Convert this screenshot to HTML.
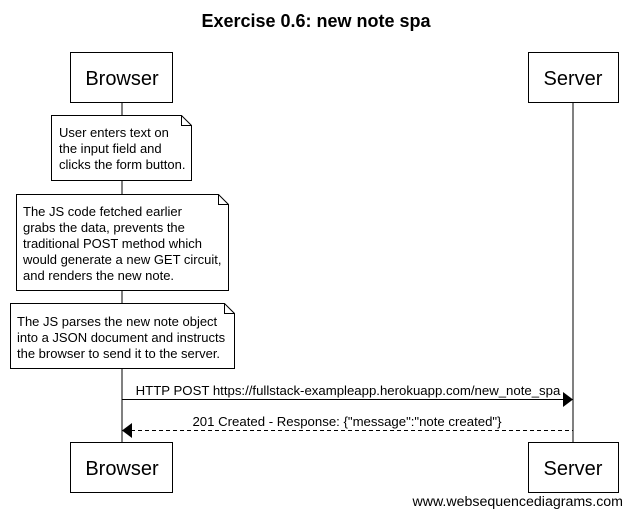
<html><body style="margin:0;background:#fff">
<svg width="632" height="517" xmlns="http://www.w3.org/2000/svg" font-family="Liberation Sans, Arial, sans-serif">
<rect width="632" height="517" fill="#fff"/>
<text x="316" y="27" text-anchor="middle" font-size="18" font-weight="bold">Exercise 0.6: new note spa</text>
<line x1="122" y1="102" x2="122" y2="442" stroke="#000"/>
<line x1="573" y1="102" x2="573" y2="442" stroke="#000"/>
<g fill="#fff" stroke="#000">
<rect x="70.5" y="52.5" width="102" height="50"/>
<rect x="528.5" y="52.5" width="90" height="50"/>
<rect x="70.5" y="442.5" width="102" height="50"/>
<rect x="528.5" y="442.5" width="90" height="50"/>
<path d="M51.5 115.5H181.5L191.5 125.5V180.5H51.5Z M181.5 115.5V125.5H191.5"/>
<path d="M16.5 194.5H218.5L228.5 204.5V290.5H16.5Z M218.5 194.5V204.5H228.5"/>
<path d="M10.5 303.5H224.5L234.5 313.5V368.5H10.5Z M224.5 303.5V313.5H234.5"/>
</g>
<g font-size="20" text-anchor="middle">
<text x="122" y="85">Browser</text><text x="573" y="85">Server</text>
<text x="122" y="475">Browser</text><text x="573" y="475">Server</text>
</g>
<g font-size="13">
<text x="59" y="137">User enters text on</text>
<text x="59" y="153">the input field and</text>
<text x="59" y="169">clicks the form button.</text>
<text x="23" y="216">The JS code fetched earlier</text>
<text x="23" y="232">grabs the data, prevents the</text>
<text x="23" y="248">traditional POST method which</text>
<text x="23" y="264">would generate a new GET circuit,</text>
<text x="23" y="280">and renders the new note.</text>
<text x="17" y="326">The JS parses the new note object</text>
<text x="17" y="342">into a JSON document and instructs</text>
<text x="17" y="358">the browser to send it to the server.</text>
</g>
<g font-size="13.2" text-anchor="middle">
<text x="348" y="395">HTTP POST https://fullstack-exampleapp.herokuapp.com/new_note_spa</text>
<text x="347" y="426">201 Created - Response: {"message":"note created"}</text>
</g>
<text x="623" y="506" text-anchor="end" font-size="14.2">www.websequencediagrams.com</text>
<line x1="122" y1="399.5" x2="564" y2="399.5" stroke="#000"/>
<path d="M573 399.5L563 392V407Z"/>
<line x1="131" y1="430.5" x2="573" y2="430.5" stroke="#000" stroke-dasharray="4,3"/>
<path d="M122 430.5L132 423V438Z"/>
</svg>
</body></html>
